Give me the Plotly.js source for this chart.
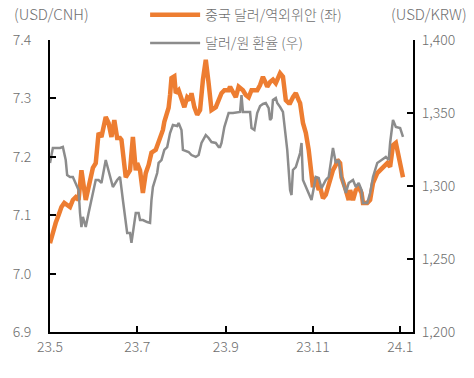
<!DOCTYPE html>
<html>
<head>
<meta charset="utf-8">
<script src="https://cdn.plot.ly/plotly-3.0.1.min.js"></script>
<style>html,body{margin:0;padding:0;background:#fff;}#chart{width:474px;height:378px;}</style>
</head>
<body>
<div id="chart"></div>
<script>
// USD/CNH (left axis)
const cnhDates = [
'2023-05-01','2023-05-03','2023-05-05','2023-05-07','2023-05-09','2023-05-11','2023-05-14','2023-05-15','2023-05-17','2023-05-19',
'2023-05-21','2023-05-22','2023-05-23','2023-05-26','2023-05-28','2023-05-29','2023-05-31','2023-06-02','2023-06-04','2023-06-06',
'2023-06-09','2023-06-11','2023-06-12','2023-06-13','2023-06-15','2023-06-17','2023-06-19','2023-06-20','2023-06-23','2023-06-25',
'2023-06-26','2023-06-28','2023-06-30','2023-07-01','2023-07-03','2023-07-05','2023-07-07','2023-07-09','2023-07-11','2023-07-14',
'2023-07-17','2023-07-19','2023-07-20','2023-07-23','2023-07-24','2023-07-25','2023-07-27','2023-07-28','2023-07-30','2023-08-01',
'2023-08-03','2023-08-05','2023-08-07','2023-08-08','2023-08-10','2023-08-12','2023-08-14','2023-08-16','2023-08-18','2023-08-20',
'2023-08-21','2023-08-22','2023-08-25','2023-08-27','2023-08-29','2023-08-31','2023-09-03','2023-09-04','2023-09-06','2023-09-08',
'2023-09-10','2023-09-13','2023-09-15','2023-09-17','2023-09-19','2023-09-23','2023-09-25','2023-09-27','2023-09-29','2023-09-30',
'2023-10-02','2023-10-04','2023-10-06','2023-10-08','2023-10-09','2023-10-11','2023-10-13','2023-10-15','2023-10-16','2023-10-18',
'2023-10-20','2023-10-22','2023-10-23','2023-10-25','2023-10-27','2023-10-29','2023-10-30','2023-10-31','2023-11-01','2023-11-03',
'2023-11-05','2023-11-06','2023-11-08','2023-11-10','2023-11-11','2023-11-13','2023-11-15','2023-11-17','2023-11-18','2023-11-20',
'2023-11-21','2023-11-24','2023-11-26','2023-11-27','2023-11-29','2023-12-01','2023-12-03','2023-12-04','2023-12-05','2023-12-06',
'2023-12-09','2023-12-11','2023-12-13','2023-12-16','2023-12-18','2023-12-20','2023-12-23','2023-12-25','2023-12-26','2023-12-27',
'2023-12-29','2023-12-30','2023-12-31','2024-01-01','2024-01-03'
];
const cnhValues = [
7.052,7.071,7.087,7.100,7.114,7.121,7.114,7.114,7.126,7.131,
7.126,7.152,7.177,7.126,7.152,7.165,7.181,7.189,7.241,7.234,
7.268,7.258,7.249,7.234,7.263,7.232,7.232,7.229,7.165,7.174,
7.177,7.234,7.177,7.189,7.177,7.138,7.172,7.186,7.207,7.212,
7.232,7.246,7.260,7.284,7.306,7.335,7.338,7.309,7.314,7.297,
7.285,7.302,7.297,7.309,7.285,7.272,7.280,7.332,7.366,7.326,
7.297,7.280,7.285,7.297,7.309,7.314,7.314,7.320,7.309,7.302,
7.320,7.314,7.306,7.302,7.314,7.314,7.323,7.337,7.326,7.320,
7.328,7.332,7.326,7.335,7.343,7.337,7.297,7.292,7.292,7.302,
7.309,7.297,7.292,7.258,7.241,7.212,7.189,7.160,7.148,7.165,
7.143,7.148,7.129,7.135,7.143,7.165,7.177,7.186,7.195,7.189,
7.165,7.143,7.126,7.143,7.126,7.143,7.148,7.143,7.138,7.121,
7.121,7.126,7.155,7.172,7.177,7.183,7.189,7.183,7.212,7.220,
7.224,7.212,7.200,7.195,7.165
];

// USD/KRW (right axis)
const krwDates = [
'2023-05-01','2023-05-02','2023-05-03','2023-05-06','2023-05-08','2023-05-10','2023-05-12','2023-05-13','2023-05-15','2023-05-17',
'2023-05-19','2023-05-21','2023-05-22','2023-05-23','2023-05-24','2023-05-26','2023-05-28','2023-05-30','2023-06-02','2023-06-04',
'2023-06-06','2023-06-09','2023-06-11','2023-06-13','2023-06-14','2023-06-17','2023-06-19','2023-06-21','2023-06-23','2023-06-24',
'2023-06-26','2023-06-27','2023-06-30','2023-07-02','2023-07-03','2023-07-05','2023-07-08','2023-07-10','2023-07-11','2023-07-12',
'2023-07-15','2023-07-16','2023-07-18','2023-07-20','2023-07-22','2023-07-24','2023-07-26','2023-07-29','2023-07-30','2023-07-31',
'2023-08-01','2023-08-02','2023-08-06','2023-08-08','2023-08-11','2023-08-13','2023-08-15','2023-08-18','2023-08-20','2023-08-22',
'2023-08-25','2023-08-27','2023-08-28','2023-08-29','2023-08-30','2023-08-31','2023-09-03','2023-09-06','2023-09-11','2023-09-12',
'2023-09-13','2023-09-16','2023-09-18','2023-09-19','2023-09-21','2023-09-23','2023-09-25','2023-09-27','2023-09-29','2023-10-01',
'2023-10-02','2023-10-03','2023-10-04','2023-10-06','2023-10-07','2023-10-09','2023-10-11','2023-10-14','2023-10-16','2023-10-17',
'2023-10-18','2023-10-20','2023-10-22','2023-10-23','2023-10-24','2023-10-25','2023-10-28','2023-10-30','2023-10-31','2023-11-03',
'2023-11-05','2023-11-07','2023-11-10','2023-11-12','2023-11-14','2023-11-15','2023-11-17','2023-11-19','2023-11-21','2023-11-24',
'2023-11-26','2023-11-29','2023-12-01','2023-12-03','2023-12-05','2023-12-06','2023-12-09','2023-12-11','2023-12-13','2023-12-16',
'2023-12-19','2023-12-22','2023-12-24','2023-12-25','2023-12-27','2023-12-29','2024-01-01','2024-01-03'
];
const krwValues = [
1315.8,1319.9,1326.0,1326.0,1326.0,1326.7,1317.8,1307.5,1306.2,1306.2,
1302.1,1297.3,1281.5,1271.9,1278.8,1271.9,1281.5,1290.4,1304.1,1304.1,
1302.1,1317.8,1311.0,1304.1,1299.3,1304.1,1306.2,1290.4,1276.7,1267.8,
1267.8,1261.0,1281.5,1281.5,1276.7,1276.7,1275.3,1274.7,1290.4,1299.3,
1308.9,1315.8,1317.8,1324.7,1326.7,1336.3,1341.8,1341.1,1343.2,1340.4,
1338.4,1324.7,1323.3,1321.2,1319.9,1321.2,1329.5,1334.9,1332.9,1330.1,
1329.5,1326.7,1326.7,1329.5,1336.3,1340.4,1350.0,1350.0,1350.7,1362.3,
1350.7,1350.7,1350.7,1339.7,1338.4,1350.0,1354.8,1356.2,1356.8,1353.4,
1345.2,1346.6,1358.9,1360.3,1356.8,1354.1,1350.7,1324.7,1297.3,1293.8,
1311.0,1313.0,1319.9,1322.6,1329.5,1304.1,1297.3,1292.5,1290.4,1306.2,
1305.5,1298.6,1304.1,1306.2,1317.8,1326.0,1315.8,1317.8,1306.2,1295.2,
1302.1,1304.1,1299.3,1302.1,1297.3,1288.4,1288.4,1295.2,1306.2,1315.8,
1317.8,1319.9,1317.8,1329.5,1345.2,1340.4,1339.7,1333.6
];

const tickDates = ['2023-05-01','2023-07-01','2023-09-01','2023-11-01','2024-01-01'];
const tickLabels = ['23.5','23.7','23.9','23.11','24.1'];
const seriesNames = ['중국 달러/역외위안 (좌)', '달러/원 환율 (우)'];

const FONT = '"Noto Sans CJK KR", "Noto Sans", sans-serif';
const GREY_TXT = '#6e6e6e';

const traces = [
  {x: cnhDates, y: cnhValues, name: seriesNames[0], type: 'scatter', mode: 'lines',
   line: {color: '#ED7D31', width: 4.5}, yaxis: 'y', legendgroup: 'a'},
  {x: krwDates, y: krwValues, name: seriesNames[1], type: 'scatter', mode: 'lines',
   line: {color: '#8C8C8C', width: 2.5}, yaxis: 'y2', legendgroup: 'b'}
];

const axisCommon = {
  showgrid: false, zeroline: false, showline: true, linecolor: '#000', linewidth: 2,
  ticks: 'inside', ticklen: 6, tickwidth: 2, tickcolor: '#000',
  tickfont: {family: FONT, size: 14, color: GREY_TXT, weight: 300}
};

const layout = {
  width: 474, height: 378,
  margin: {l: 50, r: 61, t: 40, b: 46, autoexpand: false},
  paper_bgcolor: '#fff', plot_bgcolor: '#fff',
  font: {family: FONT, color: GREY_TXT},
  showlegend: true,
  legend: {x: 0.262, y: 1.14, xanchor: 'left', yanchor: 'top', bgcolor: 'rgba(0,0,0,0)',
    font: {family: FONT, size: 14, color: GREY_TXT, weight: 300}, traceorder: 'grouped', tracegroupgap: 7,
    itemwidth: 50},
  xaxis: Object.assign({}, axisCommon, {
    type: 'date', range: ['2023-05-01', '2024-01-10'],
    tickmode: 'array', tickvals: tickDates, ticktext: tickLabels,
    ticklabelstandoff: 1
  }),
  yaxis: Object.assign({}, axisCommon, {
    range: [6.9, 7.4], dtick: 0.1, tickformat: '.1f', tick0: 6.9,
    ticklabelstandoff: 14
  }),
  yaxis2: Object.assign({}, axisCommon, {
    range: [1200, 1400], dtick: 50, tickformat: ',d', tick0: 1200,
    overlaying: 'y', side: 'right', ticklabelstandoff: 4
  }),
  annotations: [
    {text: '(USD/CNH)', xref: 'paper', yref: 'paper', x: 0.005, y: 1.092,
     xanchor: 'center', yanchor: 'middle', showarrow: false,
     font: {family: FONT, size: 15, color: GREY_TXT, weight: 300}},
    {text: '(USD/KRW)', xref: 'paper', yref: 'paper', x: 1.044, y: 1.092,
     xanchor: 'center', yanchor: 'middle', showarrow: false,
     font: {family: FONT, size: 15, color: GREY_TXT, weight: 300}}
  ]
};

Plotly.newPlot('chart', traces, layout, {displayModeBar: false, staticPlot: true});
</script>
</body>
</html>
